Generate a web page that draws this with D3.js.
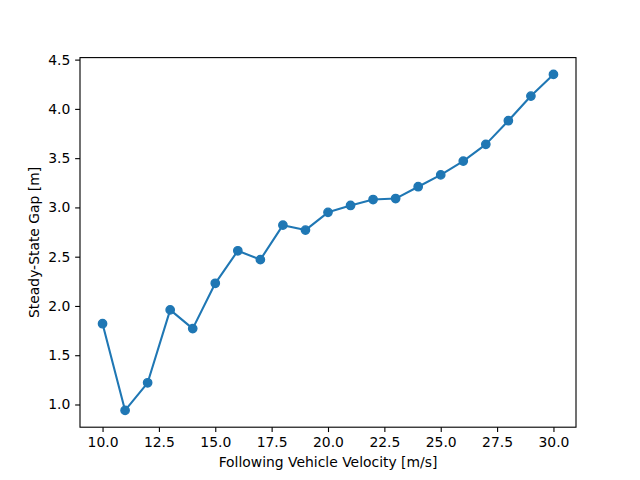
<!DOCTYPE html>
<html><head><meta charset="utf-8">
<script src="https://cdn.jsdelivr.net/npm/d3@7"></script>
<style>body{margin:0;background:#fff}svg{display:block}text{font-family:"DejaVu Sans",sans-serif}</style>
</head><body>
<script>
const velocities = [10,11,12,13,14,15,16,17,18,19,20,21,22,23,24,25,26,27,28,29,30];
const gaps = [1.82,0.94,1.22,1.96,1.77,2.23,2.56,2.47,2.82,2.77,2.95,3.02,3.08,3.09,3.21,3.33,3.47,3.64,3.88,4.13,4.35];
const xTicks = [10,12.5,15,17.5,20,22.5,25,27.5,30];
const yTicks = [1.0,1.5,2.0,2.5,3.0,3.5,4.0,4.5];
const xLabel = "Following Vehicle Velocity [m/s]";
const yLabel = "Steady-State Gap [m]";

const W=640,H=480, L=80, R=576, T=57.6, B=427.2;
const svg=d3.select("body").append("svg").attr("width",W).attr("height",H);
const xmin=d3.min(velocities), xmax=d3.max(velocities), xr=xmax-xmin;
const ymin=d3.min(gaps), ymax=d3.max(gaps), yr=ymax-ymin;
const x=d3.scaleLinear().domain([xmin-0.05*xr,xmax+0.05*xr]).range([L,R]);
const y=d3.scaleLinear().domain([ymin-0.05*yr,ymax+0.05*yr]).range([B,T]);
const color="#1f77b4";

const xa=svg.append("g").attr("transform",`translate(0,${B})`)
  .call(d3.axisBottom(x).tickValues(xTicks).tickFormat(d3.format(".1f")).tickSizeOuter(0).tickSize(4.86).tickPadding(4.86));
const ya=svg.append("g").attr("transform",`translate(${L},0)`)
  .call(d3.axisLeft(y).tickValues(yTicks).tickFormat(d3.format(".1f")).tickSizeOuter(0).tickSize(4.86).tickPadding(4.86));
[xa,ya].forEach(a=>{a.select(".domain").remove();a.selectAll("line").attr("stroke","#000").attr("stroke-width",1.11);
  a.selectAll("text").attr("font-size","13.9px").attr("fill","#000").attr("font-family","DejaVu Sans");});

svg.append("path").datum(velocities.map((v,i)=>[v,gaps[i]]))
  .attr("d",d3.line().x(d=>x(d[0])).y(d=>y(d[1])))
  .attr("fill","none").attr("stroke",color).attr("stroke-width",2.08).attr("stroke-linejoin","round").attr("stroke-linecap","square");
svg.append("g").selectAll("circle").data(velocities).join("circle")
  .attr("cx",d=>x(d)).attr("cy",(d,i)=>y(gaps[i])).attr("r",4.17).attr("fill",color)
  .attr("stroke",color).attr("stroke-width",1.39);

svg.append("rect").attr("x",L).attr("y",T).attr("width",R-L).attr("height",B-T)
  .attr("fill","none").attr("stroke","#000").attr("stroke-width",1.11);

svg.append("text").attr("x",(L+R)/2).attr("y",467).attr("text-anchor","middle").attr("font-size","13.9px").text(xLabel);
svg.append("text").attr("transform",`translate(39,${(T+B)/2}) rotate(-90)`).attr("text-anchor","middle").attr("font-size","13.9px").text(yLabel);
</script>
</body></html>
